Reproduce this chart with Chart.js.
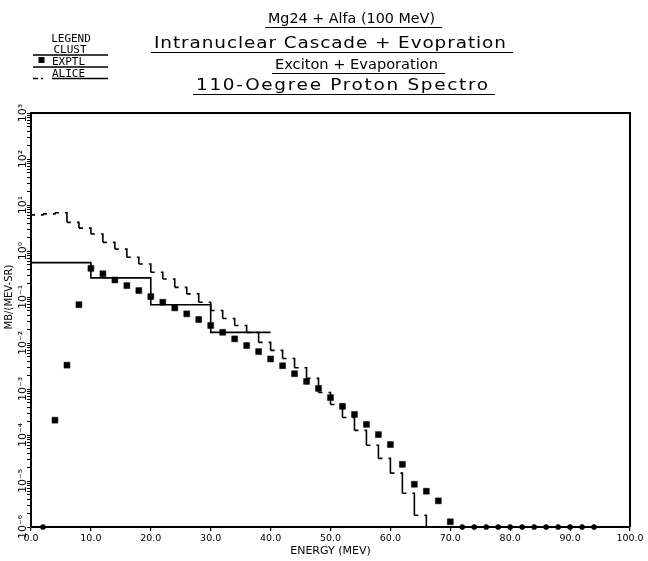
<!DOCTYPE html>
<html><head><meta charset="utf-8">
<script src="https://cdn.jsdelivr.net/npm/chart.js@4.4.1/dist/chart.umd.min.js"></script>
<style>html,body{margin:0;padding:0;background:#fff;}#wrap{width:648px;height:561px;}</style>
</head><body><div id="wrap"><canvas id="c" width="648" height="561"></canvas></div>
<script>
// ---------- data ----------
const Y_MIN = 1e-6, Y_MAX = 1e3;
const yExponents = [-6, -5, -4, -3, -2, -1, 0, 1, 2, 3];
const yTickLabels = ['10\u207B\u2076','10\u207B\u2075','10\u207B\u2074','10\u207B\u00B3','10\u207B\u00B2','10\u207B\u00B9','10\u2070','10\u00B9','10\u00B2','10\u00B3'];
const xTickValues = [0, 10, 20, 30, 40, 50, 60, 70, 80, 90, 100];
const xTickLabels = ['0.0','10.0','20.0','30.0','40.0','50.0','60.0','70.0','80.0','90.0','100.0'];

const titleLines = ['Mg24 + Alfa (100 MeV)', 'Intranuclear Cascade + Evopration', 'Exciton + Evaporation', '110-Oegree Proton Spectro'];
const legendNames = ['CLUST', 'EXPTL', 'ALICE'];
const xTitle = 'ENERGY (MEV)';
const yTitle = 'MB/(MEV-SR)';

// CLUST (intranuclear cascade) histogram, 10 MeV bins
const clustEdges = [0, 10, 20, 30, 40];
const clustValues = [0.56, 0.26, 0.068, 0.017];

// ALICE (exciton) histogram, 2 MeV bins
const aliceEdges = [0,2,4,6,8,10,12,14,16,18,20,22,24,26,28,30,32,34,36,38,40,42,44,46,48,50,52,54,56,58,60,62,64,66];
const aliceValues = [6.1,6.4,6.8,4.2,3.15,2.34,1.54,1.10,0.73,0.52,0.344,0.247,0.162,0.117,0.077,0.051,0.034,0.024,0.0169,0.0103,0.0069,0.0046,0.0029,0.0017,0.00084,0.00046,0.00024,0.000126,6.0e-5,3.1e-5,1.48e-5,5.4e-6,1.8e-6];

// EXPTL points
const exptlEnergy = [2,4,6,8,10,12,14,16,18,20,22,24,26,28,30,32,34,36,38,40,42,44,46,48,50,52,54,56,58,60,62,64,66,68,70,72,74,76,78,80,82,84,86,88,90,92,94];
const exptlValue = [0,2.1e-4,3.3e-3,0.068,0.42,0.32,0.235,0.177,0.138,0.102,0.077,0.058,0.043,0.0324,0.024,0.0171,0.0123,0.0088,0.0065,0.0045,0.0032,0.00215,0.00146,0.00103,6.5e-4,4.2e-4,2.8e-4,1.7e-4,1.02e-4,6.2e-5,2.3e-5,8.5e-6,6.0e-6,3.7e-6,1.3e-6,0,0,0,0,0,0,0,0,0,0,0,0];

// ---------- build datasets ----------
function histPoints(edges, vals, closeVal) {
  const pts = vals.map((v, i) => ({x: edges[i], y: v}));
  pts.push({x: edges[vals.length], y: closeVal});
  return pts;
}
const clustData = histPoints(clustEdges, clustValues, clustValues[clustValues.length - 1]);
const aliceData = histPoints(aliceEdges, aliceValues, Y_MIN);
const exptlData = exptlEnergy.map((e, i) => ({x: e, y: Math.max(exptlValue[i], Y_MIN), zero: exptlValue[i] === 0}));

// ---------- layout constants ----------
const TITLE_CX = [351.5, 330, 356.5, 342];
const TITLE_W = [167, 352, 163, 292];
const TITLE_Y = [23, 48, 69, 90];
const TITLE_SIZE = [14, 16, 14, 16];

const decor = {
  id: 'decor',
  afterDraw(chart) {
    const ctx = chart.ctx, a = chart.chartArea;
    ctx.save();
    ctx.strokeStyle = '#000'; ctx.fillStyle = '#000';
    ctx.lineWidth = 2;
    ctx.beginPath(); ctx.moveTo(a.left, a.top); ctx.lineTo(a.right, a.top); ctx.lineTo(a.right, a.bottom); ctx.stroke();
    // titles
    ctx.textAlign = 'left'; ctx.textBaseline = 'alphabetic';
    const hasLS = ('letterSpacing' in ctx);
    titleLines.forEach((t, i) => {
      ctx.font = TITLE_SIZE[i] + 'px "DejaVu Sans"';
      if (hasLS) ctx.letterSpacing = '0px';
      const w0 = ctx.measureText(t).width;
      const n = t.length;
      let sx = Math.min(1.15, Math.max(0.9, TITLE_W[i] / w0));
      let ls = hasLS ? (TITLE_W[i] / sx - w0) / (n - 1) : 0;
      if (!hasLS) sx = TITLE_W[i] / w0;
      const left = TITLE_CX[i] - TITLE_W[i] / 2;
      ctx.save();
      if (hasLS) ctx.letterSpacing = ls.toFixed(2) + 'px';
      ctx.translate(left, TITLE_Y[i]); ctx.scale(sx, 1); ctx.fillText(t, 0, 0);
      ctx.restore();
      if (hasLS) ctx.letterSpacing = '0px';
      ctx.lineWidth = 1.2;
      ctx.beginPath(); ctx.moveTo(left - 3, TITLE_Y[i] + 4.5); ctx.lineTo(left + TITLE_W[i] + 7, TITLE_Y[i] + 4.5); ctx.stroke();
    });
    // legend
    ctx.font = '11px "DejaVu Sans Mono"';
    ctx.textAlign = 'center';
    ctx.fillText('LEGEND', 71, 42);
    ctx.fillText(legendNames[0], 70, 53);
    ctx.textAlign = 'left';
    ctx.fillText(legendNames[1], 52, 65);
    ctx.fillText(legendNames[2], 52, 77);
    ctx.lineWidth = 1.3;
    ctx.beginPath();
    ctx.moveTo(33, 55); ctx.lineTo(108, 55);
    ctx.moveTo(33, 67); ctx.lineTo(108, 67);
    ctx.moveTo(52, 78.5); ctx.lineTo(108, 78.5);
    ctx.moveTo(33, 78.5); ctx.lineTo(38, 78.5);
    ctx.moveTo(41, 78.5); ctx.lineTo(43, 78.5);
    ctx.stroke();
    ctx.fillRect(38.5, 57, 6, 6);
    // y title
    ctx.font = '10px "DejaVu Sans"';
    ctx.textAlign = 'center'; ctx.textBaseline = 'middle';
    ctx.translate(9, 297); ctx.rotate(-Math.PI / 2);
    ctx.fillText(yTitle, 0, 0);
    ctx.restore();
  }
};

new Chart(document.getElementById('c'), {
  type: 'line',
  data: {
    datasets: [
      {label: legendNames[0], data: clustData, stepped: 'before', borderColor: '#000', borderWidth: 1.6, pointRadius: 0, fill: false},
      {label: legendNames[2], data: aliceData, stepped: 'before', borderColor: '#000', borderWidth: 1.6, pointRadius: 0, fill: false,
       segment: {borderDash: c => [4, 6, 1000 + c.p0DataIndex]}},
      {label: legendNames[1], data: exptlData, showLine: false, clip: false,
       pointStyle: c => (c.raw && c.raw.zero) ? 'circle' : 'rect',
       pointRadius: c => (c.raw && c.raw.zero) ? 2.6 : 4.2,
       pointBackgroundColor: '#000', pointBorderColor: '#000', pointBorderWidth: 0.5}
    ]
  },
  options: {
    responsive: false, animation: false, devicePixelRatio: 1,
    layout: {padding: {left: 0, right: 18, top: 113, bottom: 0}},
    plugins: {legend: {display: false}, title: {display: false}, tooltip: {enabled: false}},
    scales: {
      x: {
        type: 'linear', min: 0, max: 100,
        afterBuildTicks: s => { s.ticks = xTickValues.map(v => ({value: v})); },
        afterFit: s => { s.height = 34; s.paddingLeft = 0; s.paddingRight = 0; },
        ticks: {autoSkip: false, maxRotation: 0, minRotation: 0, padding: 2, color: '#000',
                font: {family: 'DejaVu Sans', size: 9.5},
                callback: (v, i) => xTickLabels[xTickValues.indexOf(v)]},
        grid: {drawOnChartArea: false, drawTicks: true, tickLength: 4, color: '#000', lineWidth: 1.2},
        border: {display: true, color: '#000', width: 2},
        title: {display: true, text: xTitle, color: '#000', font: {family: 'DejaVu Sans', size: 11}, padding: {top: 0, bottom: 3}}
      },
      y: {
        type: 'logarithmic', min: Y_MIN, max: Y_MAX,
        afterBuildTicks: s => {
          const t = [];
          yExponents.forEach(e => {
            if (e === yExponents[yExponents.length - 1]) { t.push({value: Math.pow(10, e), major: true}); return; }
            for (let m = 1; m <= 9; m++) t.push({value: m * Math.pow(10, e), major: m === 1});
          });
          s.ticks = t;
        },
        afterFit: s => { s.width = 31; s.paddingTop = 0; s.paddingBottom = 0; },
        ticks: {autoSkip: false, minRotation: 90, maxRotation: 90, crossAlign: 'center', padding: -8, color: '#000',
                font: {family: 'DejaVu Sans', size: 11},
                callback: v => {
                  const l = Math.log10(v), e = Math.round(l);
                  return Math.abs(l - e) < 1e-6 ? yTickLabels[yExponents.indexOf(e)] : '';
                }},
        grid: {drawOnChartArea: false, drawTicks: true, tickLength: 4, color: '#000', lineWidth: 1},
        border: {display: true, color: '#000', width: 2}
      }
    }
  },
  plugins: [decor]
});
</script>
</body></html>
